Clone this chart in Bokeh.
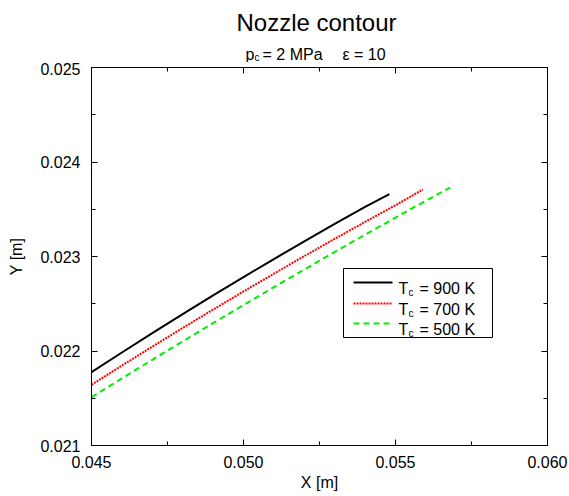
from bokeh.plotting import figure
from bokeh.layouts import column
from bokeh.models import (Range1d, FixedTicker, PrintfTickFormatter, CustomJSTickFormatter,
                          LinearAxis, Label, BoxAnnotation, Arrow)
from bokeh.embed import file_html
from bokeh.resources import INLINE

# ---- data ----
x_900 = [0.0450, 0.0460, 0.0470, 0.0480, 0.0490, 0.0500, 0.0510, 0.0520,
         0.0530, 0.0540, 0.0548]
y_900 = [0.021776, 0.021984, 0.022189, 0.022390, 0.022588, 0.022782, 0.022973,
         0.023160, 0.023344, 0.023524, 0.023660]

x_700 = [0.0450, 0.0460, 0.0470, 0.0480, 0.0490, 0.0500, 0.0510, 0.0520,
         0.0530, 0.0540, 0.0550, 0.0559]
y_700 = [0.021642, 0.021846, 0.022046, 0.022244, 0.022438, 0.022630, 0.022818,
         0.023004, 0.023187, 0.023366, 0.023543, 0.023710]

x_500 = [0.0450, 0.0460, 0.0470, 0.0480, 0.0490, 0.0500, 0.0510, 0.0520,
         0.0530, 0.0540, 0.0550, 0.0560, 0.0568]
y_500 = [0.021511, 0.021710, 0.021907, 0.022102, 0.022295, 0.022486, 0.022675,
         0.022862, 0.023048, 0.023231, 0.023412, 0.023591, 0.023730]

x_ticks = [0.045, 0.050, 0.055, 0.060]
x_minor = [0.0475, 0.0525, 0.0575]
y_ticks = [0.021, 0.022, 0.023, 0.024, 0.025]
y_minor = [0.0215, 0.0225, 0.0235, 0.0245]

legend_names = ["900 K", "700 K", "500 K"]

FONT = "Liberation Sans"
W = 569
HEAD_H = 62
LB, RB = 91, 22  # left / right borders shared by header and plot

# ---- header with title / subtitle (data coords = page pixels) ----
head = figure(width=W, height=HEAD_H, output_backend="svg", toolbar_location=None,
              x_range=Range1d(LB, W - RB), y_range=Range1d(HEAD_H, 0),
              x_axis_type=None, y_axis_type=None, min_border=0,
              min_border_left=LB, min_border_right=RB,
              min_border_top=0, min_border_bottom=0)
head.grid.visible = False
head.outline_line_color = None
head.background_fill_color = "white"
head.border_fill_color = "white"


def hlab(x, y, text, size, align="left"):
    head.add_layout(Label(x=x, y=y, text=text, text_font=FONT, text_font_size=size,
                          text_color="black", text_align=align,
                          text_baseline="alphabetic"))


hlab(316, 22, "Nozzle contour", "24px", align="center")
hlab(245, 54, "p", "16px")
hlab(254, 57, "c", "10px")
hlab(262, 54, "= 2 MPa", "16px")
hlab(342, 54, "ε = 10", "16px")

# ---- main plot ----
p = figure(width=W, height=496 - HEAD_H, output_backend="svg", toolbar_location=None,
           x_range=Range1d(0.045, 0.060), y_range=Range1d(0.021, 0.025),
           min_border_left=LB, min_border_right=RB, min_border_top=67 - HEAD_H,
           min_border_bottom=51)
p.grid.visible = False
p.outline_line_color = "black"
p.outline_line_width = 1
p.background_fill_color = "white"
p.border_fill_color = "white"

xt = FixedTicker(ticks=x_ticks, minor_ticks=x_minor)
yt = FixedTicker(ticks=y_ticks, minor_ticks=y_minor)


def style(ax, ticker, show_labels):
    ax.ticker = ticker
    ax.major_tick_in = 6
    ax.major_tick_out = 0
    ax.minor_tick_in = 4
    ax.minor_tick_out = 0
    ax.axis_line_color = "black"
    ax.major_tick_line_color = "black"
    ax.minor_tick_line_color = "black"
    ax.major_label_text_font = FONT
    ax.major_label_text_color = "black"
    ax.axis_label_text_font = FONT
    ax.axis_label_text_font_style = "normal"
    ax.axis_label_text_color = "black"
    if show_labels:
        ax.formatter = PrintfTickFormatter(format="%.3f")
        ax.major_label_text_font_size = "16px"
        ax.axis_label_text_font_size = "16px"
    else:
        ax.formatter = CustomJSTickFormatter(code="return ''")
        ax.major_label_text_font_size = "0px"
        ax.major_label_standoff = 0


xa = p.xaxis[0]
ya = p.yaxis[0]
style(xa, xt, True)
style(ya, yt, True)
xa.axis_label = "X [m]"
ya.axis_label = "Y [m]"
xa.major_label_standoff = 10
xa.axis_label_standoff = 3
ya.major_label_standoff = 11
ya.axis_label_standoff = 12

top = LinearAxis()
style(top, xt, False)
p.add_layout(top, "above")
right = LinearAxis()
style(right, yt, False)
p.add_layout(right, "right")

RED_DASH = "2 1"
GREEN_DASH = "6 4"
p.line(x_900, y_900, line_color="black", line_width=2)
p.line(x_700, y_700, line_color="#ff0000", line_width=2, line_dash=RED_DASH)
p.line(x_500, y_500, line_color="#00ee00", line_width=2, line_dash=GREEN_DASH)

# ---- legend (screen units measured from frame's bottom-left) ----
p.add_layout(BoxAnnotation(left=252, right=401, top=177, bottom=108,
                           left_units="screen", right_units="screen",
                           top_units="screen", bottom_units="screen",
                           fill_color="white", fill_alpha=1.0,
                           line_color="black", line_width=1, line_alpha=1.0))
rows = [163, 142, 122]
styles = [("black", "solid"), ("#ff0000", RED_DASH), ("#00ee00", GREEN_DASH)]
for ry, (c, d), name in zip(rows, styles, legend_names):
    p.add_layout(Arrow(x_start=262, y_start=ry, x_end=301, y_end=ry,
                       start_units="screen", end_units="screen", end=None,
                       line_color=c, line_width=2, line_dash=d))
    for tx, dy, txt, sz in [(307, -6, "T", "16px"), (317, -10, "c", "10px"),
                            (328, -6, "= " + name, "16px")]:
        p.add_layout(Label(x=tx, y=ry + dy, x_units="screen", y_units="screen",
                           text=txt, text_font=FONT, text_font_size=sz,
                           text_color="black", text_baseline="alphabetic"))

layout = column(head, p, spacing=0)
open("out.html", "w").write(file_html(layout, INLINE))
